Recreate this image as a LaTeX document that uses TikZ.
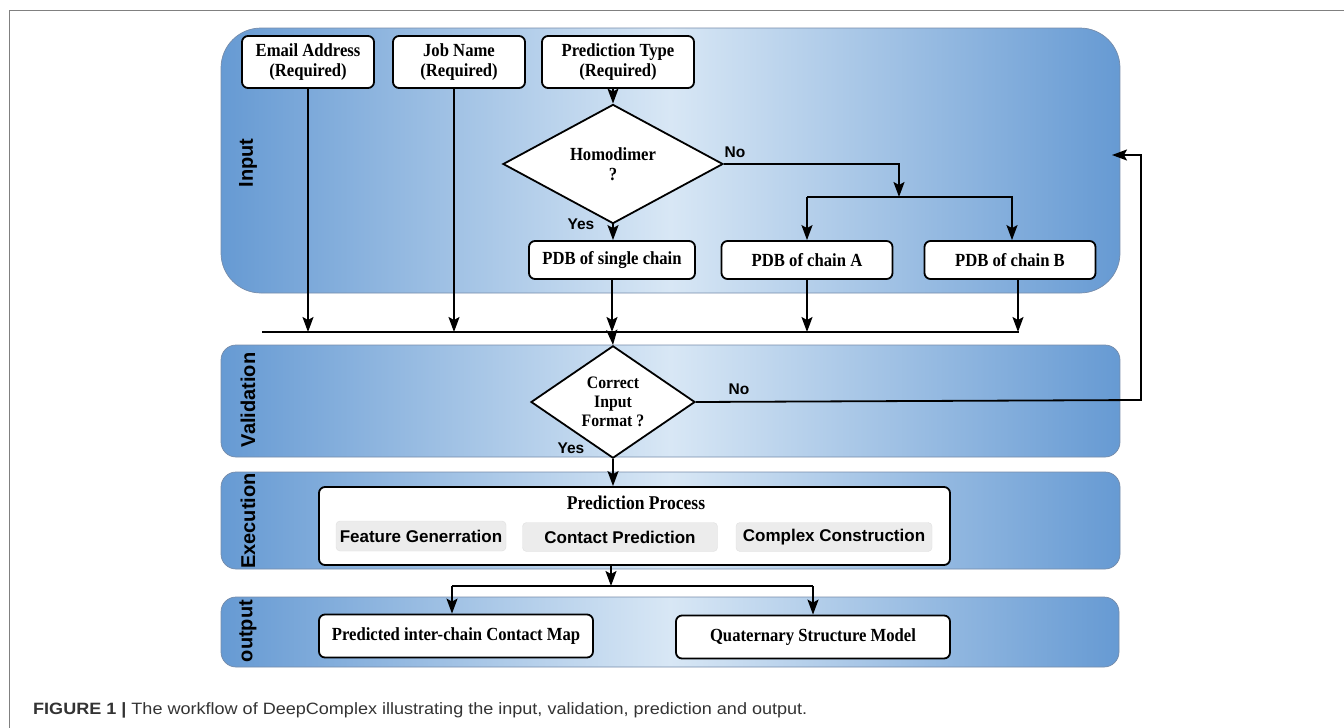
\documentclass[tikz,border=0pt]{standalone}
\usepackage{fontspec}
\setmainfont{Liberation Serif}
\setsansfont{Liberation Sans}
\newfontfamily\boxserif[FakeStretch=0.9]{Liberation Serif}
\newfontfamily\capsans[FakeStretch=1.1]{Liberation Sans}
\usetikzlibrary{shapes.geometric,arrows.meta}
\definecolor{laneblue}{RGB}{102,154,211}
\definecolor{lanelight}{RGB}{216,231,245}
\definecolor{laneedge}{RGB}{118,140,170}
\definecolor{subgray}{RGB}{236,236,236}
\definecolor{capgray}{RGB}{51,51,51}

\begin{document}
\begin{tikzpicture}[x=1pt,y=-1pt,
		lane/.style={draw=laneedge,line width=0.7pt,left color=laneblue,right color=laneblue,middle color=lanelight},
		lanename/.style={rotate=90,font=\sffamily\bfseries\fontsize{20}{24}\selectfont},
		io/.style={draw,line width=1.8pt,rounded corners=6pt,fill=white,align=center,inner sep=0pt,font=\boxserif\bfseries\fontsize{18.5}{20}\selectfont},
		decision/.style={draw,diamond,line width=1.8pt,fill=white,align=center,inner sep=0pt,font=\boxserif\bfseries\fontsize{18.5}{20}\selectfont},
		stage/.style={draw=black!12,fill=subgray,rounded corners=4pt,inner sep=0pt,font=\sffamily\bfseries\fontsize{17}{20}\selectfont},
		answer/.style={font=\sffamily\bfseries\fontsize{15.5}{18}\selectfont},
		flow/.style={line width=1.8pt,-{Stealth[length=15pt,width=11pt,inset=3pt]}},
		bus/.style={line width=1.8pt}]
	\useasboundingbox (0,0) rectangle (1344,728);
	\draw[gray,line width=1pt] (9.5,728) -- (9.5,10.5) -- (1344,10.5);

	\shadedraw[lane,rounded corners=40pt] (221,28) rectangle (1120,293);
	\shadedraw[lane,rounded corners=15pt] (221,345) rectangle (1120,457);
	\shadedraw[lane,rounded corners=15pt] (221,472) rectangle (1120,569);
	\shadedraw[lane,rounded corners=15pt] (221,597) rectangle (1119,667);

	\node[lanename] (lbinput) at (248,163) {Input};
	\node[lanename] (lbvalid) at (248,400) {Validation};
	\node[lanename] (lbexec) at (248,521) {Execution};
	\node[lanename] (lbout) at (248,631) {output};

	\node[io,minimum width=132,minimum height=52] (email) at (308,62) {Email Address\\(Required)};
	\node[io,minimum width=132,minimum height=52] (job) at (459,62) {Job Name\\(Required)};
	\node[io,minimum width=152,minimum height=52] (ptype) at (618,62) {Prediction Type\\(Required)};
	\node[decision,minimum width=220,minimum height=88] (homo) at (613,164) {Homodimer\\?};
	\node[io,minimum width=166,minimum height=38] (single) at (612,260) {PDB of single chain};
	\node[io,minimum width=171,minimum height=38] (chainA) at (807,260) {PDB of chain A};
	\node[io,minimum width=171,minimum height=38] (chainB) at (1010,260) {PDB of chain B};

	\node[decision,minimum width=164,minimum height=98,font=\boxserif\bfseries\fontsize{17.5}{19}\selectfont] (valid) at (613,402) {Correct\\Input\\Format ?};

	\node[io,minimum width=631,minimum height=78] (process) at (634.5,526) {};
	\node[font=\boxserif\bfseries\fontsize{19.5}{20}\selectfont] (ptitle) at (636,503) {Prediction Process};
	\node[stage,minimum width=170,minimum height=30] (feat) at (421,536) {Feature Generration};
	\node[stage,minimum width=195,minimum height=29] (contact) at (620,537) {Contact Prediction};
	\node[stage,minimum width=196,minimum height=29] (complex) at (834,537) {Complex Construction};

	\node[io,minimum width=274,minimum height=43] (cmap) at (456,636) {Predicted inter-chain Contact Map};
	\node[io,minimum width=274,minimum height=43] (qmodel) at (813,637) {Quaternary Structure Model};

	\coordinate (nosplit) at (899,197);
	\coordinate (busL) at (262,332);
	\coordinate (busR) at (1019,332);
	\coordinate (fbturn) at (1141,400);
	\coordinate (fbtip) at (1112,155);
	\coordinate (outsplit) at (611,586);

	\draw[flow] (homo.north |- ptype.south) -- (homo.north);
	\draw[flow] (homo.south) -- (homo.south |- single.north);
	\draw[flow] (homo.east) -| (nosplit);
	\draw[bus] (nosplit -| chainA.north) -- ([xshift=3pt]nosplit -| chainB.north);
	\draw[flow] (nosplit -| chainA.north) -- (chainA.north);
	\draw[flow] ([xshift=2pt]nosplit -| chainB.north) -- ([xshift=2pt]chainB.north);
	\node[answer] (noA) at (735,152) {No};
	\node[answer] (yesA) at (581,224) {Yes};

	\draw[bus] (busL) -- (busR);
	\draw[flow] (email.south) -- (email.south |- busL);
	\draw[flow] ([xshift=-5pt]job.south) -- ([xshift=-5pt]job.south |- busL);
	\draw[flow] (single.south) -- (single.south |- busL);
	\draw[flow] (chainA.south) -- (chainA.south |- busL);
	\draw[flow] ([xshift=8pt]chainB.south) -- ([xshift=8pt]chainB.south |- busL);
	\draw[flow] (single.south |- busL) -- (valid.north);

	\draw[flow] (valid.east) -- (fbturn) |- (fbtip);
	\node[answer] (noB) at (739,389) {No};
	\node[answer] (yesB) at (571,448) {Yes};
	\draw[flow] (valid.south) -- (valid.south |- process.north);

	\draw[flow] (outsplit |- process.south) -- (outsplit);
	\draw[bus] ([xshift=-4pt]outsplit -| cmap.north) -- (outsplit -| qmodel.north);
	\draw[flow] ([xshift=-4pt]outsplit -| cmap.north) -- ([xshift=-4pt]cmap.north);
	\draw[flow] (outsplit -| qmodel.north) -- (qmodel.north);

	\node[anchor=base west,inner sep=0pt,text=capgray,font=\capsans\fontsize{16.4}{18}\selectfont] (caption) at (33,714) {\textbf{FIGURE 1 |} The workflow of DeepComplex illustrating the input, validation, prediction and output.};
\end{tikzpicture}
\end{document}
